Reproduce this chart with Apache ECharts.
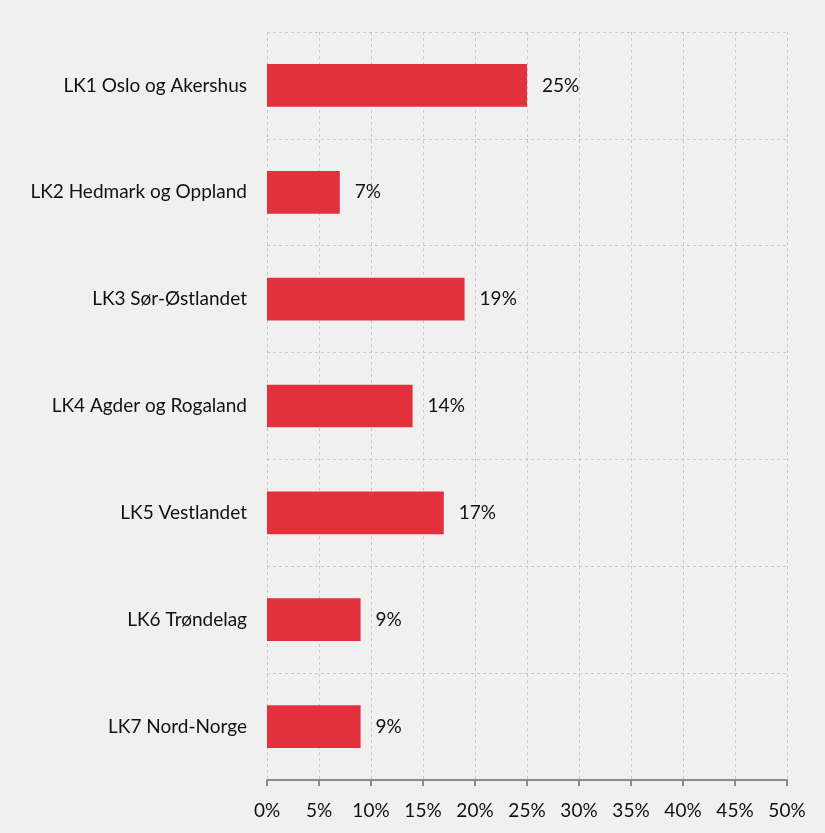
<!DOCTYPE html>
<html>
<head>
<meta charset="utf-8">
<script src="https://cdn.jsdelivr.net/npm/echarts@6/dist/echarts.min.js"></script>
<style>
  html, body { margin: 0; padding: 0; background: #f0f0f0; }
  #chart { width: 825px; height: 833px; }
</style>
</head>
<body>
<div id="chart"></div>
<script>
// Share per region (percent)
const regions = [
  'LK1 Oslo og Akershus',
  'LK2 Hedmark og Oppland',
  'LK3 Sør-Østlandet',
  'LK4 Agder og Rogaland',
  'LK5 Vestlandet',
  'LK6 Trøndelag',
  'LK7 Nord-Norge'
];
const shares = [25, 7, 19, 14, 17, 9, 9];
const xMin = 0;
const xMax = 50;
const xStep = 5;

const fontFamily = 'Lato, "Open Sans", "Noto Sans", sans-serif';
const fontSize = 19;

const chart = echarts.init(document.getElementById('chart'), null, { renderer: 'canvas' });
chart.setOption({
  backgroundColor: '#f0f0f0',
  animation: false,
  grid: { left: 267, right: 38, top: 32, bottom: 53 },
  xAxis: {
    type: 'value',
    min: xMin,
    max: xMax,
    interval: xStep,
    axisLine: { show: true, lineStyle: { color: '#8c8c8c', width: 2 } },
    axisTick: { show: true, length: 6, lineStyle: { color: '#8c8c8c', width: 2 } },
    axisLabel: {
      formatter: v => v + '%',
      color: '#111',
      fontSize,
      fontFamily,
      margin: 21
    },
    splitLine: { show: true, lineStyle: { color: '#c8c8c8', type: [3, 3], width: 1 } }
  },
  yAxis: {
    type: 'category',
    data: regions,
    inverse: true,
    axisLine: { show: false },
    axisTick: { show: false },
    axisLabel: { color: '#111', fontSize, fontFamily, margin: 20 },
    splitLine: { show: true, lineStyle: { color: '#c8c8c8', type: [3, 3], width: 1 } }
  },
  series: [{
    type: 'bar',
    data: shares,
    barWidth: '40%',
    itemStyle: { color: '#e3303d' },
    label: {
      show: true,
      position: 'right',
      distance: 15,
      formatter: p => p.value + '%',
      color: '#111',
      fontSize,
      fontFamily
    }
  }]
});
</script>
</body>
</html>
